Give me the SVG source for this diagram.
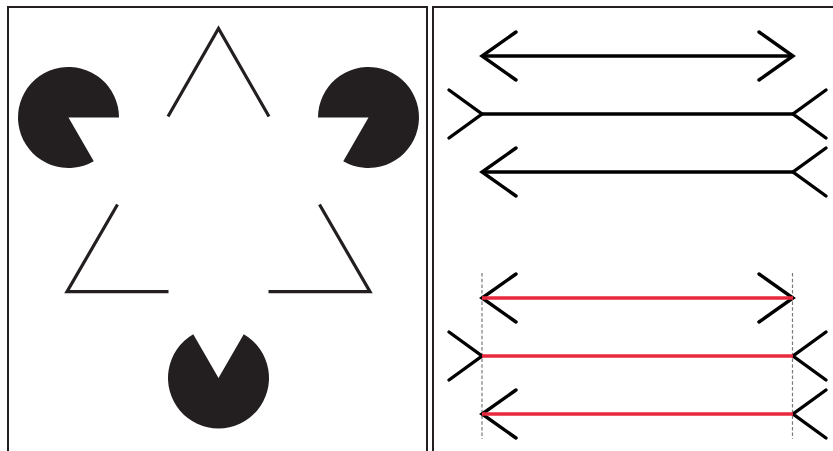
<svg xmlns="http://www.w3.org/2000/svg" width="833" height="451" viewBox="0 0 833 451">
<style>
.frame{fill:none;stroke:#231f20;stroke-width:2}
.pac{fill:#231f20}
.tri{fill:none;stroke:#231f20;stroke-width:3.2;stroke-linecap:butt;stroke-linejoin:miter}
.shaft{stroke:#000;stroke-width:3.4;fill:none}
.red{stroke:#e8283c;stroke-width:3.4;fill:none}
.fin{stroke:#000;stroke-width:3.4;fill:none;stroke-linecap:round;stroke-linejoin:miter}
.guide{stroke:#7a7a7a;stroke-width:1.2;stroke-dasharray:3.5 2.2;fill:none}
</style>
<rect width="833" height="451" fill="#fff"/>
<g id="frames">
<path class="frame" d="M8,460 V7 H427 V460"/>
<path class="frame" d="M433,460 V7 H840"/>
</g>
<g id="kanizsa">
<g id="pacman-left"><path class="pac" d="M68.5,117.5 L119,117.5 A50.5,50.5 0 1 0 93.75,161.2 Z"/></g>
<g id="pacman-right"><path class="pac" d="M368.5,117.5 L318,117.5 A50.5,50.5 0 1 1 343.25,161.2 Z"/></g>
<g id="pacman-bottom"><path class="pac" d="M218.5,378 L243.75,334.3 A50.5,50.5 0 1 1 193.25,334.3 Z"/></g>
<g id="triangle-top"><path class="tri" d="M168,116.5 L218.5,28.5 L269,116.5"/></g>
<g id="triangle-left"><path class="tri" d="M117.5,204.5 L67,291.7 L168.5,291.7"/></g>
<g id="triangle-right"><path class="tri" d="M319.5,204.5 L370,291.7 L268.5,291.7"/></g>
</g>
<g id="muller-lyer">
<g id="row1">
<line class="shaft" x1="482" y1="56" x2="793" y2="56"/>
<path class="fin" d="M516,32 L482,56 L516,80"/>
<path class="fin" d="M759,32 L793,56 L759,80"/>
</g>
<g id="row2">
<line class="shaft" x1="482" y1="114" x2="793" y2="114"/>
<path class="fin" d="M449,90 L482,114 L449,138"/>
<path class="fin" d="M826,90 L793,114 L826,138"/>
</g>
<g id="row3">
<line class="shaft" x1="482" y1="172" x2="793" y2="172"/>
<path class="fin" d="M516,148 L482,172 L516,196"/>
<path class="fin" d="M826,148 L793,172 L826,196"/>
</g>
<g id="guides">
<line class="guide" x1="482" y1="273" x2="482" y2="439"/>
<line class="guide" x1="792.5" y1="273" x2="792.5" y2="439"/>
</g>
<g id="row4">
<path class="fin" d="M516,274 L482,298 L516,322"/>
<path class="fin" d="M759,274 L793,298 L759,322"/>
<line class="red" x1="482" y1="298" x2="793" y2="298"/>
</g>
<g id="row5">
<path class="fin" d="M449,332 L482,356 L449,380"/>
<path class="fin" d="M826,332 L793,356 L826,380"/>
<line class="red" x1="482" y1="356" x2="793" y2="356"/>
</g>
<g id="row6">
<path class="fin" d="M516,390 L482,414 L516,438"/>
<path class="fin" d="M826,390 L793,414 L826,438"/>
<line class="red" x1="482" y1="414" x2="793" y2="414"/>
</g>
</g>
</svg>
